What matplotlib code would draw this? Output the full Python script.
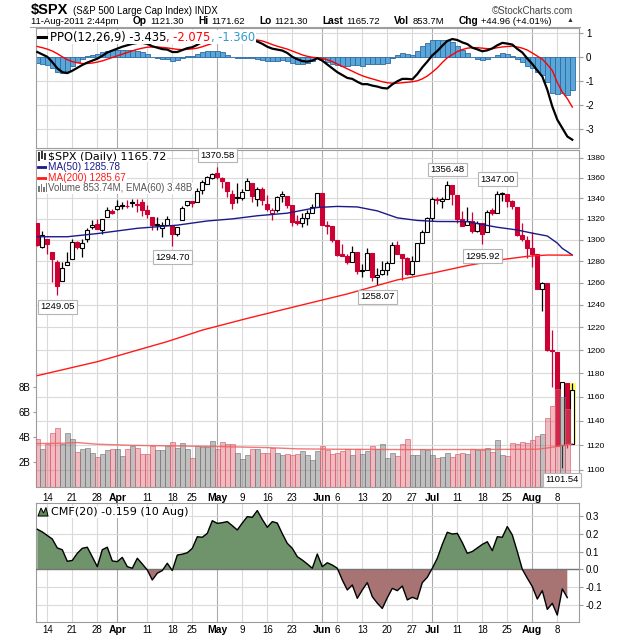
import matplotlib
matplotlib.use("Agg")
import matplotlib.pyplot as plt
import numpy as np
from matplotlib.patches import Rectangle, Polygon
from matplotlib.lines import Line2D

# $SPX daily candles, 10-Mar-2011 .. 11-Aug-2011 (108 sessions)
opens = [1315.72, 1293.43, 1301.19, 1288.46, 1279.46, 1261.61, 1276.71, 1281.65, 1298.29, 1292.19,
         1300.61, 1311.80, 1315.45, 1309.37, 1321.89, 1327.44, 1329.48, 1333.56, 1332.03, 1335.94,
         1334.82, 1336.16, 1329.01, 1321.96, 1314.03, 1311.13, 1314.54, 1313.35, 1305.99, 1319.12,
         1333.23, 1337.14, 1336.75, 1348.43, 1353.86, 1360.14, 1365.21, 1359.76, 1355.90, 1344.16,
         1340.24, 1340.20, 1348.34, 1354.51, 1339.39, 1348.69, 1334.77, 1326.10, 1328.54, 1342.40,
         1342.00, 1333.07, 1317.70, 1316.36, 1320.64, 1325.69, 1331.10, 1345.20, 1314.55, 1312.94,
         1300.26, 1286.31, 1284.63, 1279.63, 1288.26, 1271.31, 1272.22, 1287.87, 1265.53, 1268.58,
         1271.50, 1278.40, 1295.48, 1286.60, 1283.04, 1268.44, 1280.21, 1296.85, 1307.64, 1320.64,
         1339.59, 1337.56, 1339.62, 1352.39, 1343.31, 1319.61, 1314.45, 1317.74, 1308.87, 1315.94,
         1307.07, 1328.66, 1325.65, 1343.80, 1344.32, 1337.39, 1331.91, 1304.84, 1300.12, 1292.59,
         1286.56, 1254.25, 1260.23, 1200.28, 1198.48, 1120.23, 1171.77, 1121.30]
highs = [1315.72, 1308.35, 1301.19, 1288.46, 1280.91, 1278.88, 1288.88, 1300.58, 1299.35, 1300.51,
         1311.34, 1319.18, 1319.74, 1319.45, 1331.74, 1329.77, 1337.85, 1336.74, 1338.21, 1339.38,
         1338.80, 1339.46, 1333.77, 1321.96, 1321.35, 1316.79, 1322.88, 1313.35, 1312.70, 1332.66,
         1337.49, 1337.55, 1349.55, 1357.49, 1361.71, 1364.56, 1370.58, 1360.84, 1355.90, 1348.00,
         1354.36, 1349.44, 1359.44, 1354.51, 1351.05, 1350.47, 1343.33, 1330.42, 1341.82, 1346.82,
         1342.00, 1333.07, 1323.72, 1325.86, 1328.51, 1334.62, 1345.20, 1345.20, 1318.03, 1312.94,
         1300.26, 1296.22, 1287.04, 1294.54, 1288.26, 1277.04, 1292.50, 1287.87, 1274.11, 1279.82,
         1280.42, 1297.62, 1298.61, 1286.60, 1283.93, 1284.91, 1296.80, 1309.21, 1321.97, 1341.01,
         1340.89, 1340.94, 1356.48, 1352.39, 1343.31, 1327.17, 1331.48, 1326.88, 1317.70, 1315.94,
         1328.14, 1330.43, 1347.00, 1346.10, 1344.32, 1338.51, 1331.91, 1316.32, 1304.16, 1307.38,
         1286.56, 1261.20, 1260.23, 1218.11, 1198.48, 1172.88, 1171.77, 1171.62]
lows = [1294.21, 1291.99, 1286.37, 1261.12, 1249.05, 1261.61, 1276.18, 1281.65, 1291.01, 1284.05,
        1297.74, 1310.15, 1310.19, 1305.26, 1321.89, 1325.03, 1328.89, 1329.10, 1330.03, 1331.09,
        1326.56, 1322.94, 1321.06, 1309.51, 1309.19, 1302.42, 1313.68, 1294.70, 1303.97, 1319.12,
        1332.24, 1331.47, 1336.75, 1344.25, 1353.60, 1358.69, 1358.59, 1349.52, 1341.50, 1329.17,
        1335.58, 1338.64, 1348.34, 1336.36, 1332.03, 1333.36, 1327.32, 1318.51, 1326.59, 1336.36,
        1330.67, 1312.88, 1313.87, 1311.80, 1314.41, 1325.69, 1331.10, 1313.71, 1305.61, 1297.90,
        1284.72, 1284.74, 1277.42, 1279.63, 1268.28, 1265.64, 1272.22, 1261.90, 1258.07, 1267.40,
        1267.56, 1278.40, 1286.79, 1262.87, 1267.24, 1267.53, 1280.21, 1296.85, 1307.64, 1318.18,
        1334.30, 1330.92, 1339.62, 1333.71, 1316.42, 1313.33, 1314.45, 1306.51, 1307.35, 1295.92,
        1307.07, 1323.65, 1325.65, 1336.95, 1331.09, 1329.10, 1303.49, 1299.16, 1282.86, 1274.73,
        1254.03, 1234.56, 1199.54, 1168.09, 1119.28, 1101.54, 1118.01, 1121.30]
closes = [1295.11, 1304.28, 1296.39, 1281.87, 1256.88, 1273.72, 1279.21, 1298.38, 1293.77, 1297.54,
          1309.66, 1313.80, 1310.19, 1319.44, 1328.26, 1325.83, 1332.41, 1332.87, 1332.63, 1335.54,
          1333.51, 1328.17, 1324.46, 1314.16, 1314.41, 1314.52, 1319.68, 1305.14, 1312.62, 1330.36,
          1337.38, 1335.25, 1347.24, 1355.66, 1360.48, 1363.61, 1361.22, 1356.62, 1347.32, 1335.10,
          1340.20, 1346.29, 1357.16, 1342.08, 1348.65, 1337.77, 1329.47, 1328.98, 1340.68, 1343.60,
          1333.27, 1317.37, 1316.28, 1320.47, 1325.69, 1331.10, 1345.20, 1314.55, 1312.94, 1300.16,
          1286.17, 1284.94, 1279.56, 1289.00, 1270.98, 1271.83, 1287.87, 1265.42, 1267.64, 1271.50,
          1278.36, 1295.52, 1287.14, 1283.50, 1268.45, 1280.10, 1296.67, 1307.41, 1320.64, 1339.67,
          1337.88, 1339.22, 1353.22, 1343.80, 1319.49, 1313.64, 1317.72, 1308.87, 1316.14, 1305.44,
          1326.73, 1325.84, 1343.80, 1345.02, 1337.43, 1331.94, 1304.89, 1300.67, 1292.28, 1286.94,
          1254.05, 1260.34, 1200.07, 1199.38, 1119.46, 1172.53, 1120.76, 1165.72]
prev_close = 1320.02  # 9-Mar close, colours the first candle

# volume in billions
volumes = [3.82, 3.02, 3.44, 4.35, 4.75, 3.45, 4.35, 3.80, 2.80, 3.05,
           3.15, 2.75, 2.40, 2.65, 2.95, 3.05, 3.05, 2.50, 3.05, 3.30,
           3.15, 2.65, 2.60, 3.25, 2.95, 2.95, 3.30, 3.60, 3.15, 3.55,
           3.05, 2.35, 3.30, 3.20, 3.20, 3.66, 3.02, 3.57, 3.47, 3.47,
           2.75, 2.20, 2.59, 3.02, 3.02, 2.75, 2.75, 3.15, 2.75, 2.54,
           2.67, 2.54, 2.67, 2.85, 2.59, 2.14, 2.85, 3.25, 2.99, 2.67,
           2.75, 2.85, 3.02, 2.54, 3.02, 2.67, 2.85, 3.25, 3.07, 3.41,
           2.35, 2.75, 2.45, 3.41, 3.81, 2.54, 2.54, 3.02, 2.95, 2.54,
           2.35, 2.40, 2.75, 2.40, 2.60, 2.75, 2.67, 3.02, 2.94, 2.99,
           3.12, 2.80, 3.74, 2.53, 2.45, 3.50, 3.45, 3.58, 3.52, 3.75,
           4.06, 4.22, 5.50, 6.50, 7.80, 7.20, 6.20, 0.85]

# moving averages (session index, value)
ma50_idx = [0, 6, 12, 20, 28, 34, 39, 44, 50, 56, 60, 64, 68, 72, 76, 80, 86, 89, 92, 96, 99, 102, 104, 105, 106, 107]
ma50_val = [1303.0, 1303.0, 1306.0, 1311.0, 1314.0, 1318.0, 1320.0, 1323.0, 1325.5, 1331.0, 1332.0, 1331.5, 1327.7,
            1321.0, 1318.5, 1317.5, 1317.4, 1314.6, 1312.0, 1309.4, 1306.4, 1303.7, 1297.0, 1292.0, 1289.0, 1285.78]
ma200_idx = [0, 12, 20, 26, 33, 42, 52, 62, 72, 79, 86, 92, 98, 102, 107]
ma200_val = [1178.0, 1190.0, 1200.0, 1207.5, 1217.6, 1228.0, 1239.0, 1250.0, 1262.8, 1269.0, 1276.0, 1281.0,
             1284.6, 1285.8, 1285.67]
vol_ema_idx = [0, 5, 8, 12, 19, 34, 46, 52, 59, 74, 90, 100, 102, 104, 107]
vol_ema_val = [3.47, 3.50, 3.55, 3.42, 3.33, 3.25, 3.15, 3.05, 3.02, 2.99, 3.00, 3.02, 3.12, 3.25, 3.45]

# PPO(12,26,9) and its signal line
ppo = [0.22, 0.12, 0.02, -0.20, -0.46, -0.62, -0.66, -0.56, -0.44, -0.32,
       -0.22, -0.14, -0.06, 0.06, 0.20, 0.28, 0.36, 0.44, 0.50, 0.56,
       0.60, 0.60, 0.56, 0.46, 0.40, 0.34, 0.32, 0.22, 0.22, 0.30,
       0.38, 0.42, 0.52, 0.64, 0.76, 0.86, 0.92, 0.92, 0.86, 0.78,
       0.76, 0.74, 0.74, 0.68, 0.66, 0.56, 0.44, 0.36, 0.32, 0.28,
       0.18, 0.02, -0.08, -0.16, -0.18, -0.14, -0.04, -0.14, -0.30, -0.46,
       -0.62, -0.74, -0.86, -0.90, -1.02, -1.12, -1.12, -1.18, -1.22, -1.28,
       -1.30, -1.13, -1.00, -0.90, -0.90, -0.92, -0.70, -0.42, -0.18, 0.08,
       0.26, 0.48, 0.68, 0.76, 0.72, 0.62, 0.55, 0.40, 0.33, 0.25,
       0.29, 0.37, 0.50, 0.60, 0.57, 0.53, 0.35, 0.20, -0.05, -0.28,
       -0.55, -0.80, -1.35, -2.05, -2.60, -2.95, -3.30, -3.435]
ppo_signal = [0.45, 0.40, 0.34, 0.26, 0.15, 0.02, -0.10, -0.18, -0.23, -0.26,
              -0.26, -0.24, -0.20, -0.15, -0.08, -0.01, 0.06, 0.13, 0.20, 0.27,
              0.33, 0.38, 0.42, 0.43, 0.43, 0.41, 0.39, 0.36, 0.33, 0.32,
              0.33, 0.35, 0.38, 0.44, 0.51, 0.58, 0.65, 0.71, 0.75, 0.77,
              0.77, 0.76, 0.75, 0.73, 0.72, 0.68, 0.61, 0.53, 0.46, 0.40,
              0.34, 0.26, 0.18, 0.10, 0.04, 0.00, -0.02, -0.05, -0.10, -0.18,
              -0.28, -0.38, -0.48, -0.58, -0.68, -0.77, -0.84, -0.90, -0.96, -1.02,
              -1.06, -1.08, -1.08, -1.06, -1.04, -1.02, -0.98, -0.90, -0.78, -0.62,
              -0.44, -0.22, -0.02, 0.11, 0.24, 0.32, 0.38, 0.40, 0.40, 0.38,
              0.36, 0.36, 0.40, 0.43, 0.45, 0.46, 0.43, 0.38, 0.30, 0.18,
              0.05, -0.08, -0.30, -0.55, -1.05, -1.45, -1.72, -2.075]

# CMF(20), last value is 10-Aug
cmf = [0.225, 0.21, 0.19, 0.17, 0.12, 0.11, 0.045, 0.05, 0.09, 0.118,
       0.124, 0.07, 0.015, 0.11, 0.124, 0.047, 0.043, 0.067, 0.015, 0.006,
       0.062, 0.03, -0.004, -0.06, -0.022, -0.007, 0.034, -0.007, 0.08, 0.085,
       0.093, 0.118, 0.183, 0.18, 0.202, 0.273, 0.258, 0.262, 0.268, 0.245,
       0.221, 0.26, 0.296, 0.292, 0.33, 0.28, 0.236, 0.268, 0.26, 0.20,
       0.146, 0.118, 0.071, 0.052, 0.03, 0.006, 0.086, 0.015, 0.037, 0.024,
       0.006, -0.06, -0.116, -0.088, -0.163, -0.116, -0.075, -0.154, -0.19, -0.22,
       -0.16, -0.107, -0.12, -0.094, -0.172, -0.157, -0.168, -0.075, -0.045, 0.006,
       0.062, 0.14, 0.208, 0.198, 0.202, 0.15, 0.09, 0.10, 0.12, 0.14,
       0.155, 0.105, 0.183, 0.18, 0.24, 0.193, 0.10, 0.0, -0.05, -0.097,
       -0.167, -0.12, -0.225, -0.191, -0.257, -0.11, -0.159]

tick_idx = [2, 7, 12, 16, 22, 27, 31, 36, 41, 46, 51, 57, 60, 65, 70, 75, 79, 84, 89, 94, 99, 104]
tick_lab = ['14', '21', '28', 'Apr', '11', '18', '25', 'May', '9', '16', '23', 'Jun', '6', '13', '20', '27',
            'Jul', '11', '18', '25', 'Aug', '8']
months = ['Apr', 'May', 'Jun', 'Jul', 'Aug']

# labelled swing points
mark_days = [4, 27, 36, 68, 82, 89, 92, 105]
mark_kind = ['low', 'low', 'high', 'low', 'high', 'low', 'high', 'low']

# quote line under the title: (text, bold)
quote = [('11-Aug-2011 2:44pm', False), ('Op', True), ('1121.30', False), ('Hi', True), ('1171.62', False),
         ('Lo', True), ('1121.30', False), ('Last', True), ('1165.72', False), ('Vol', True),
         ('853.7M', False), ('Chg', True), ('+44.96 (+4.01%)', False), ('\u25b2', False)]

RED = '#cc0033'
GRID = '#dadada'
GRID_M = '#ababab'
SPINE = '#9c9c9c'
LIB = 'Liberation Sans'

W, H = 620, 639
fig = plt.figure(figsize=(W / 100, H / 100), dpi=100)
fig.patch.set_facecolor('white')


def box(l, t, r, b):
    return [l / W, 1 - b / H, (r - l) / W, (b - t) / H]


def ftext(x, y, s, **kw):
    kw.setdefault('va', 'center')
    return fig.text(x / W, 1 - y / H, s, **kw)


n = len(closes)
x = np.arange(n)
XL = (-0.26, 108.34)

ax_ppo = fig.add_axes(box(36, 28, 579, 148))
ax = fig.add_axes(box(36, 150, 579, 487))
ax_cmf = fig.add_axes(box(36, 503, 579, 622))


def style(a):
    a.set_xlim(*XL)
    for s in a.spines.values():
        s.set_color(SPINE)
        s.set_linewidth(0.8)
    a.set_xticks(tick_idx)
    a.tick_params(axis='x', length=0, pad=3)
    for t, lab in zip(tick_idx, tick_lab):
        a.axvline(t, color=GRID_M if lab in months else GRID, lw=0.8, zorder=0)
    a.tick_params(axis='y', length=3, color=SPINE, labelsize=7, pad=2)


for a in (ax_ppo, ax, ax_cmf):
    style(a)

# ---------------- price panel ----------------
ax.set_yscale('log')
ax.set_ylim(1086.5, 1387.7)
pt = list(range(1100, 1381, 20))
ax.set_yticks(pt)
ax.set_yticklabels([str(v) for v in pt], fontfamily=LIB, fontsize=6)
ax.minorticks_off()
for v in pt:
    ax.axhline(v, color=GRID, lw=0.8, zorder=0)

ax.add_patch(Rectangle((n - 1 - 0.65, lows[-1]), 1.3, highs[-1] - lows[-1],
                       facecolor='#ffff66', edgecolor='none', zorder=2))
pc = prev_close
for i in range(n):
    o, h, l, c = opens[i], highs[i], lows[i], closes[i]
    col = 'black' if c >= pc else RED
    pc = c
    ax.plot([i, i], [l, h], color=col, lw=0.9, zorder=3, solid_capstyle='butt')
    lo_b, hi_b = min(o, c), max(o, c)
    if hi_b - lo_b < 0.7:
        hi_b = lo_b + 0.7
    face = 'white' if c > o else col
    ax.add_patch(Rectangle((i - 0.4, lo_b), 0.8, hi_b - lo_b, facecolor=face,
                           edgecolor=col, lw=0.8, zorder=4))

ax.plot(ma50_idx, ma50_val, color='#1a1a8a', lw=1.0, zorder=5)
ax.plot(ma200_idx, ma200_val, color='#ff1a1a', lw=1.0, zorder=5)

axv = ax.twinx()
ax.yaxis.tick_right()
axv.yaxis.tick_left()
axv.set_xlim(*XL)
axv.set_ylim(0, 26.94)
axv.set_yticks([2, 4, 6, 8])
axv.set_yticklabels(['2B', '4B', '6B', '8B'], fontfamily=LIB, fontsize=7)
axv.tick_params(axis='y', length=2, color=SPINE, pad=2)
for s in axv.spines.values():
    s.set_visible(False)

faces, edges = [], []
pc = prev_close
for c in closes:
    if c >= pc:
        faces.append((0.45, 0.45, 0.45, 0.45))
        edges.append((0.45, 0.45, 0.45, 0.7))
    else:
        faces.append((0.86, 0.36, 0.42, 0.42))
        edges.append((0.86, 0.36, 0.42, 0.75))
    pc = c
axv.bar(x, volumes, width=1.0, color=faces, edgecolor=edges, lw=0.6, zorder=2)
axv.plot(vol_ema_idx, vol_ema_val, color='#f06060', lw=1.0, alpha=0.85, zorder=3)

for d, k in zip(mark_days, mark_kind):
    val = lows[d] if k == 'low' else highs[d]
    axv.annotate(f'{val:.2f}', xy=(d, val), xycoords=ax.transData,
                 xytext=(0, -8.5 if k == 'low' else 8.5), textcoords='offset points',
                 ha='center', va='center', fontsize=6.8, fontfamily=LIB, zorder=10,
                 bbox=dict(boxstyle='square,pad=0.25', fc='white', ec='#b5b5b5', lw=0.8))

ax.set_xticklabels(tick_lab, fontfamily=LIB, fontsize=7)
for lab in ax.get_xticklabels():
    if lab.get_text() in months:
        lab.set_fontweight('bold')
        lab.set_fontsize(7.5)
ax.tick_params(axis='x', pad=4)

# ---------------- PPO panel ----------------
hist = np.array(ppo) - np.array(ppo_signal)
ax_ppo.bar(x, hist, width=1.0, color='#5ba6d8', edgecolor='#2f6ba3', lw=0.6, zorder=2)
ax_ppo.plot(x, ppo_signal, color='#ff0000', lw=1.0, zorder=3)
ax_ppo.plot(x, ppo, color='black', lw=1.6, zorder=4)
ax_ppo.set_ylim(-3.78, 1.22)
ax_ppo.set_yticks([1, 0, -1, -2, -3])
ax_ppo.set_yticklabels(['1', '0', '-1', '-2', '-3'], fontfamily=LIB, fontsize=7)
ax_ppo.yaxis.tick_right()
ax_ppo.set_xticklabels([])
for v in [1, 0, -1, -2, -3]:
    ax_ppo.axhline(v, color=GRID, lw=0.8, zorder=0)

# ---------------- CMF panel ----------------
cm = np.array(cmf)
xc = x[:len(cm)]
ax_cmf.fill_between(xc, cm, 0, where=cm >= 0, interpolate=True, color='#6f936a', lw=0, zorder=2)
ax_cmf.fill_between(xc, cm, 0, where=cm <= 0, interpolate=True, color='#a87373', lw=0, zorder=2)
ax_cmf.plot(xc, cm, color='black', lw=1.0, zorder=4)
ax_cmf.axhline(0, color='#747474', lw=1.0, zorder=3)
ax_cmf.set_ylim(-0.296, 0.3725)
cmf_t = [0.3, 0.2, 0.1, 0.0, -0.1, -0.2]
ax_cmf.set_yticks(cmf_t)
ax_cmf.set_yticklabels([f'{v:.1f}' for v in cmf_t], fontfamily=LIB, fontsize=7)
ax_cmf.yaxis.tick_right()
for v in cmf_t:
    if v != 0:
        ax_cmf.axhline(v, color=GRID, lw=0.8, zorder=0)
ax_cmf.set_xticklabels(tick_lab, fontfamily=LIB, fontsize=7)
for lab in ax_cmf.get_xticklabels():
    if lab.get_text() in months:
        lab.set_fontweight('bold')
        lab.set_fontsize(7.5)
ax_cmf.tick_params(axis='x', pad=2)

# ---------------- header ----------------
renderer = fig.canvas.get_renderer()

ftext(31, 10, '$SPX', fontsize=10.5, fontweight='bold', fontfamily=LIB)
ftext(73, 10.5, '(S&P 500 Large Cap Index) INDX', fontsize=7, fontfamily=LIB)
ftext(573, 10.5, '\u00a9StockCharts.com', fontsize=7, fontfamily=LIB, ha='right', color='#444444')

# quote line: label/value pairs spread from x=31 to x=573
q_texts = []
for s, b in quote:
    t = ftext(0, 21, s, fontsize=(5 if s == '\u25b2' else (7.3 if b else 6.8)),
              fontweight='bold' if b else 'normal', fontfamily=LIB,
              color='#333333' if s == '\u25b2' else 'black')
    q_texts.append(t)
widths = [t.get_window_extent(renderer).width for t in q_texts]
small_gap = 3.0
n_small = sum(1 for s, b in quote if b)
n_big = len(quote) - 1 - n_small
big_gap = (573 - 31 - sum(widths) - n_small * small_gap) / n_big
xx = 31.0
for (s, b), t, w in zip(quote, q_texts, widths):
    t.set_x(xx / W)
    xx += w + (small_gap if b else big_gap)
fig.add_artist(Line2D([30 / W, 580 / W], [1 - 27 / H, 1 - 27 / H], color='#a0a0a0', lw=0.8))

WB = dict(facecolor='white', edgecolor='none', pad=0.6)


def chain(x0, y0, pieces, size=8, family='DejaVu Sans'):
    xx = x0
    for s, col in pieces:
        t = ftext(xx, y0, s, fontsize=size, color=col, bbox=WB, fontfamily=family)
        xx = t.get_window_extent(renderer).x1


def hline_icon(y0, col, lw=2.0):
    fig.add_artist(Line2D([38 / W, 46 / W], [1 - y0 / H, 1 - y0 / H], color=col, lw=lw))


# PPO legend
fig.add_artist(Rectangle((37 / W, 1 - 43 / H), 10 / W, 12 / H, facecolor='white', edgecolor='none'))
hline_icon(37, 'black', 2.2)
chain(50, 37, [('PPO(12,26,9) -3.435', 'black'), (', -2.075', '#ff0000'), (', -1.360', '#3399cc')],
      size=8.3)

# price legend
fig.add_artist(Rectangle((37 / W, 1 - 193 / H), 11 / W, 42 / H, facecolor='white', edgecolor='none'))
for dx, top, bot in [(39, 153, 160), (42, 152, 158), (45, 154, 159)]:
    fig.add_artist(Line2D([dx / W, dx / W], [1 - top / H, 1 - bot / H], color='#333333', lw=1.4))
chain(48, 156.5, [('$SPX (Daily) 1165.72', 'black')])
hline_icon(167, '#1a1a8a')
chain(48, 167, [('MA(50) 1285.78', '#1a1a8a')], size=7.2, family=LIB)
hline_icon(178, '#ff1a1a')
chain(48, 178, [('MA(200) 1285.67', '#ff1a1a')], size=7.2, family=LIB)
for dx, top in [(39, 186), (41.5, 184), (44, 186.5), (46.5, 183)]:
    fig.add_artist(Rectangle(((dx - 0.9) / W, 1 - 192 / H), 1.8 / W, (192 - top) / H,
                             facecolor='#777777', edgecolor='none'))
chain(48, 188.5, [('Volume 853.74M, EMA(60) 3.48B', '#555555')], size=7, family=LIB)

# CMF legend
fig.add_artist(Polygon([(38 / W, 1 - 516 / H), (41 / W, 1 - 508 / H), (43.5 / W, 1 - 513 / H),
                        (46 / W, 1 - 507.5 / H), (48 / W, 1 - 516 / H)], closed=True,
                       facecolor='#5d8a55', edgecolor='black', lw=0.7))
chain(51, 512, [('CMF(20) -0.159 (10 Aug)', 'black')])

fig.savefig('out.png', dpi=100, facecolor='white')
